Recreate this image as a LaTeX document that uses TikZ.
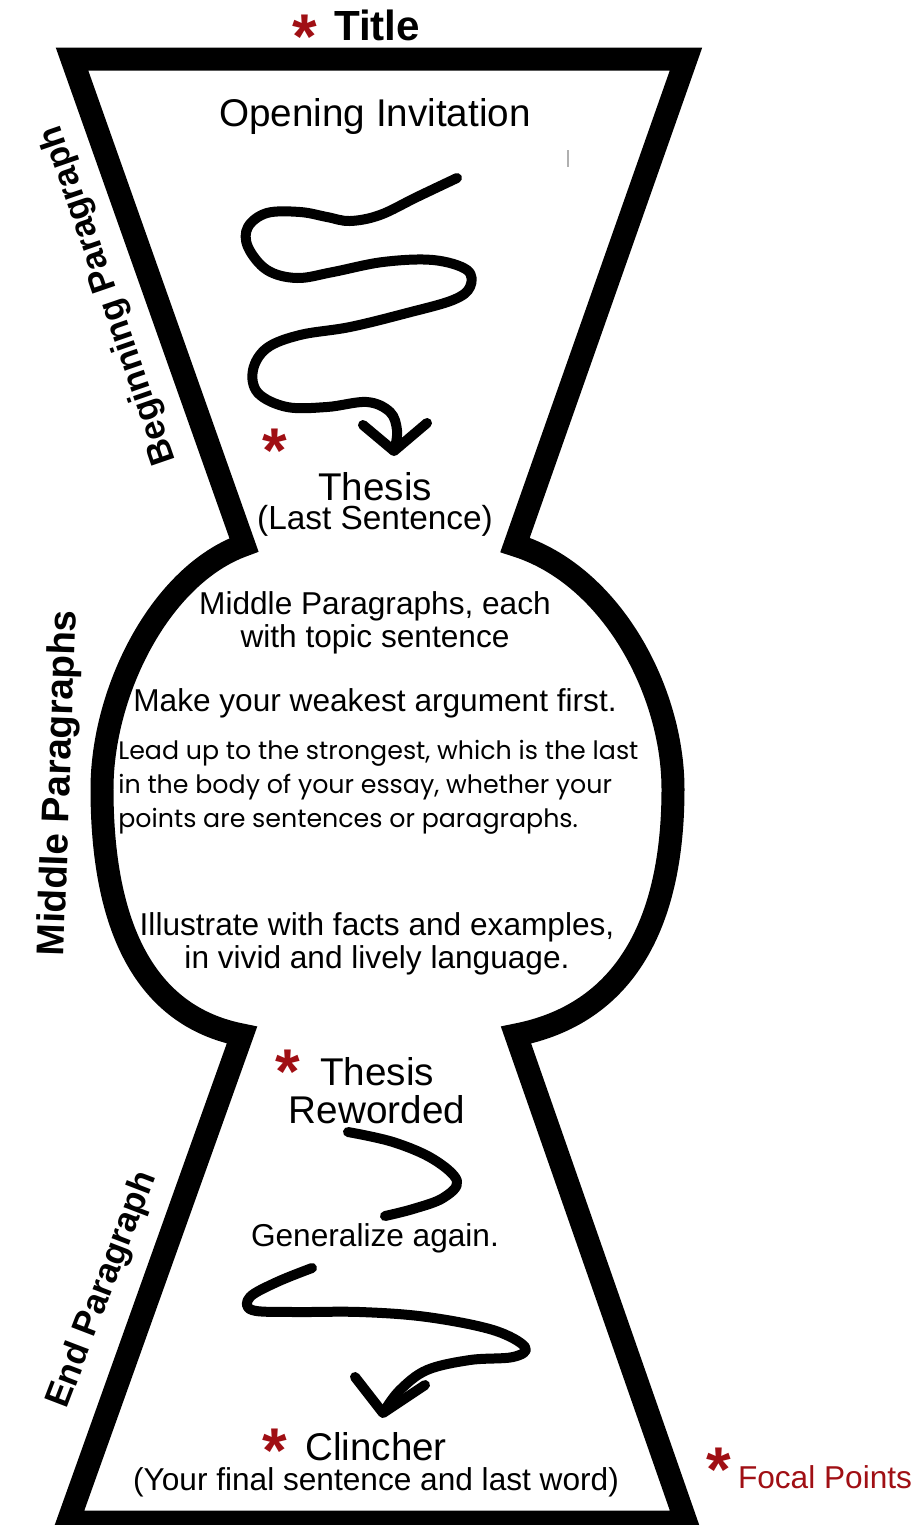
\documentclass[tikz,border=0pt]{standalone}
\usepackage{fontspec}
\setmainfont{Liberation Sans}
\newfontfamily\gothicfont{Poppins}
\usepackage{xcolor}
\usepackage{tikz}
\usetikzlibrary{positioning}
\definecolor{focal}{HTML}{A00F14}
\definecolor{markgray}{HTML}{B0B0B0}

\begin{document}
\begin{tikzpicture}[x=0.02cm, y=-0.02cm,
  outline/.style={line width=4.6mm, line join=miter},
  squiggle/.style={line width=2mm, line cap=round, line join=round},
  big/.style={inner sep=0pt, align=center, font=\fontsize{22}{21.5}\selectfont},
  body/.style={inner sep=0pt, align=center, font=\fontsize{18}{18.5}\selectfont},
  sidelabel/.style={inner sep=0pt, font=\bfseries\fontsize{20}{20}\selectfont},
  focalstar/.style={inner sep=0pt, anchor=base, text=focal, font=\bfseries\fontsize{36}{36}\selectfont}]
  \useasboundingbox (0,0) rectangle (918,1525);

  % Umriss (Trichter - Kreis - Trichter)
  \draw[outline] (244,545) -- (72,59) -- (686,59) -- (515,545)
    .. controls (612,575) and (673,692) .. (673,789)
    .. controls (673,925) and (624,1014) .. (516,1035)
    -- (686,1522) -- (68,1522) -- (242,1035)
    .. controls (144,1016) and (102,925) .. (102,789)
    .. controls (102,692) and (160,575) .. (244,545) -- cycle;
  \draw[markgray, line width=0.3mm] (568,150) -- (568,167);

  % Schlangenlinien
  \draw[squiggle] plot[smooth, tension=0.6] coordinates {(457,178) (417,197) (380,215) (350,221)
    (327,217) (300,212) (267,213) (248,227) (248,247) (267,270) (297,278) (333,272) (383,262)
    (433,260) (467,270) (470,287) (453,300) (407,313) (350,327) (300,335) (267,348) (253,370)
    (258,393) (287,407) (327,407) (367,402) (390,412) (397,430) (395,448)};
  \draw[squiggle] (363,425) -- (394,451) -- (427,423);
  \draw[squiggle] plot[smooth, tension=0.6] coordinates {(348,1132) (393,1142) (433,1159)
    (457,1181) (443,1198) (413,1209) (385,1216)};
  \draw[squiggle] plot[smooth, tension=0.6] coordinates {(312,1268) (277,1282) (250,1297)
    (252,1310) (293,1312) (360,1312) (427,1317) (493,1330) (525,1347) (513,1357) (470,1360)
    (427,1370) (400,1390) (385,1410)};
  \draw[squiggle] (355,1377) -- (383,1413) -- (425,1385);

  % Texte
  \node[inner sep=0pt, font=\bfseries\fontsize{24}{24}\selectfont] (title) at (377,25) {Title};
  \node[focalstar] (titlestar) at (305,58) {*};
  \node[big] (opening) at (375,117) {Opening Invitation};
  \node[focalstar] (thesisstar) at (275,472) {*};
  \node[big] (thesis) at (375,487) {Thesis};
  \node[inner sep=0pt, font=\fontsize{19}{19}\selectfont] (lastsent) at (375,521) {(Last Sentence)};
  \node[body] (middle) at (375,623) {Middle Paragraphs, each\\with topic sentence};
  \node[body] (weakest) at (375,703) {Make your weakest argument first.};
  \node[inner sep=0pt, anchor=west, align=left, font=\gothicfont\fontsize{14.4}{19.3}\selectfont]
    (lead) at (118,787) {Lead up to the strongest, which is the last\\in the body of your essay, whether your\\points are sentences or paragraphs.};
  \node[body] (illustrate) at (377,944) {Illustrate with facts and examples,\\in vivid and lively language.};
  \node[focalstar] (rewstar) at (288,1093) {*};
  \node[big] (reworded) at (377,1091) {Thesis\\Reworded};
  \node[body] (general) at (375,1238) {Generalize again.};
  \node[focalstar] (clinchstar) at (275,1472) {*};
  \node[big] (clincher) at (376,1447) {Clincher};
  \node[body] (final) at (376,1482) {(Your final sentence and last word)};
  \node[focalstar] (legendstar) at (719,1491) {*};
  \node[body, text=focal] (legend) at (825,1477) {Focal Points};

  % Seitenbeschriftungen
  \node[sidelabel, rotate=109] (beginning) at (109,295) {Beginning Paragraph};
  \node[sidelabel, rotate=88, font=\bfseries\fontsize{22}{22}\selectfont] (middlelabel) at (60,783) {Middle Paragraphs};
  \node[sidelabel, rotate=69] (endlabel) at (103,1290) {End Paragraph};
\end{tikzpicture}
\end{document}
